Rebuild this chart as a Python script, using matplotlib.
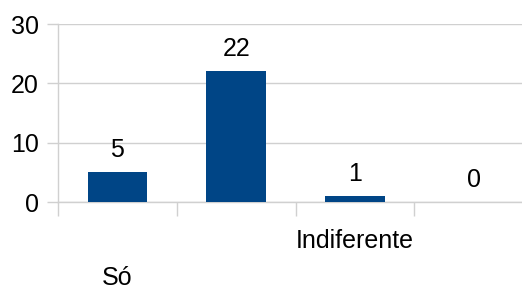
import matplotlib.pyplot as plt

categories = ['Só', '', 'Indiferente', '']
values = [5, 22, 1, 0]
# vertical offset of each category label below the axis (points)
label_offsets = [-55, -28, -28, -28]

plt.rcParams['font.family'] = ['Liberation Sans', 'DejaVu Sans']

fig = plt.figure(figsize=(5.22, 2.91), dpi=100)
ax = fig.add_axes([58 / 522, 1 - 202 / 291, 475 / 522, 178 / 291])

x = range(len(values))
ax.bar(x, values, width=0.5, color='#004586', zorder=3)

ax.set_xlim(-0.5, 3.5)
ax.set_ylim(0, 30)
ax.set_yticks([0, 10, 20, 30])
ax.yaxis.grid(True, color='#d0d0d0', linewidth=1, zorder=0)

# category separators as tick marks
ax.set_xticks([i - 0.5 for i in range(len(values))])
ax.set_xticklabels([])
ax.tick_params(axis='x', length=10, color='#d0d0d0', width=1)
ax.tick_params(axis='y', length=8, color='#d0d0d0', width=1, labelsize=18, pad=6)

for s in ['top', 'right']:
    ax.spines[s].set_visible(False)
for s in ['left', 'bottom']:
    ax.spines[s].set_color('#d0d0d0')
    ax.spines[s].set_linewidth(1)

for i, v in enumerate(values):
    ax.annotate(str(v), (i, v), xytext=(0, 11), textcoords='offset points',
                ha='center', va='baseline', fontsize=18)

for i, lab in enumerate(categories):
    if lab:
        ax.annotate(lab, (i, 0), xycoords=('data', 'axes fraction'),
                    xytext=(0, label_offsets[i]), textcoords='offset points',
                    ha='center', va='center', fontsize=18)

fig.savefig('out.png', dpi=100)
